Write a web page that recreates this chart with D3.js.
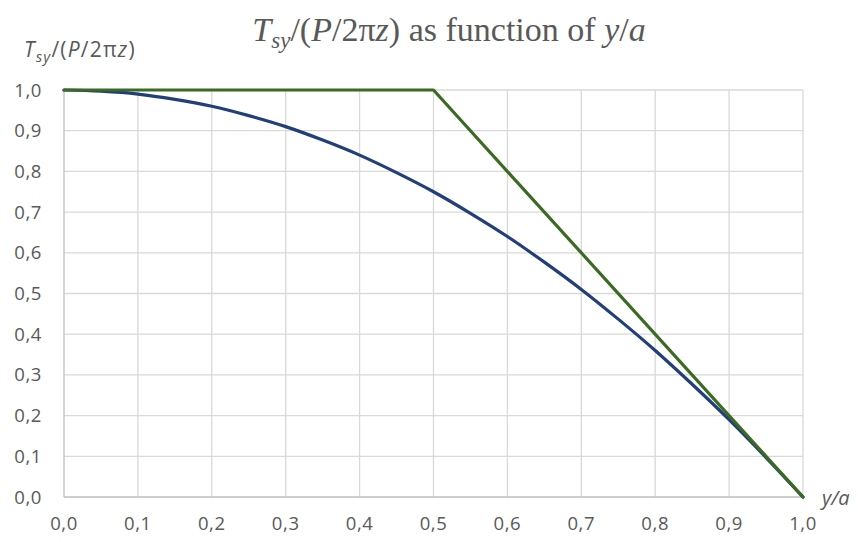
<!DOCTYPE html>
<html>
<head>
<meta charset="utf-8">
<script src="https://cdn.jsdelivr.net/npm/d3@7"></script>
<style>
  body { margin: 0; background: #fff; }
  svg { display: block; }
</style>
</head>
<body>
<svg id="chart" width="858" height="542"></svg>
<script>
// values
const yOverA = [0, 0.05, 0.1, 0.15, 0.2, 0.25, 0.3, 0.35, 0.4, 0.45, 0.5,
  0.55, 0.6, 0.65, 0.7, 0.75, 0.8, 0.85, 0.9, 0.95, 1.0];
const blueValues = [1.0, 0.997, 0.99, 0.977, 0.96, 0.937, 0.91, 0.877, 0.84, 0.797, 0.75,
  0.697, 0.64, 0.577, 0.51, 0.437, 0.36, 0.277, 0.19, 0.097, 0.0];
const greenX = [0, 0.49, 0.5, 1.0];
const greenValues = [1.0, 1.0, 1.0, 0.0];
const xTicks = [0, 0.1, 0.2, 0.3, 0.4, 0.5, 0.6, 0.7, 0.8, 0.9, 1.0];
const yTicks = [0, 0.1, 0.2, 0.3, 0.4, 0.5, 0.6, 0.7, 0.8, 0.9, 1.0];

const svg = d3.select("#chart");
const plotLeft = 64, plotRight = 803, plotTop = 90, plotBottom = 497;
const textColor = "#595959";
const sans = "'Open Sans', 'Liberation Sans', sans-serif";

const x = d3.scaleLinear().domain([0, 1]).range([plotLeft, plotRight]);
const y = d3.scaleLinear().domain([0, 1]).range([plotBottom, plotTop]);
const fmt = d => d3.format(".1f")(d).replace(".", ",");

// gridlines
svg.append("g")
  .selectAll("line")
  .data(xTicks.slice(1))
  .join("line")
  .attr("x1", d => x(d)).attr("x2", d => x(d))
  .attr("y1", plotTop).attr("y2", plotBottom)
  .attr("stroke", "#d9d9d9").attr("stroke-width", 1.3);

svg.append("g")
  .selectAll("line")
  .data(yTicks.slice(1))
  .join("line")
  .attr("x1", plotLeft).attr("x2", plotRight)
  .attr("y1", d => y(d)).attr("y2", d => y(d))
  .attr("stroke", "#d9d9d9").attr("stroke-width", 1.3);

// axes lines
svg.append("line")
  .attr("x1", plotLeft).attr("x2", plotRight).attr("y1", plotBottom).attr("y2", plotBottom)
  .attr("stroke", "#bfbfbf").attr("stroke-width", 1.3);
svg.append("line")
  .attr("x1", plotLeft).attr("x2", plotLeft).attr("y1", plotTop).attr("y2", plotBottom)
  .attr("stroke", "#bfbfbf").attr("stroke-width", 1.3);

// tick labels
svg.append("g")
  .selectAll("text")
  .data(xTicks)
  .join("text")
  .attr("x", d => x(d)).attr("y", 530)
  .attr("text-anchor", "middle")
  .attr("font-family", sans).attr("font-size", 18.5).attr("letter-spacing", 0.6)
  .attr("fill", textColor)
  .text(fmt);

svg.append("g")
  .selectAll("text")
  .data(yTicks)
  .join("text")
  .attr("x", 42).attr("y", d => y(d) + 6.5)
  .attr("text-anchor", "end")
  .attr("font-family", sans).attr("font-size", 18.5).attr("letter-spacing", 0.6)
  .attr("fill", textColor)
  .text(fmt);

// series
const blue = yOverA.map((v, i) => [v, blueValues[i]]);
const green = greenX.map((v, i) => [v, greenValues[i]]);
const smooth = d3.line().x(d => x(d[0])).y(d => y(d[1])).curve(d3.curveMonotoneX);
const straight = d3.line().x(d => x(d[0])).y(d => y(d[1]));

svg.append("path")
  .datum(blue)
  .attr("d", smooth)
  .attr("fill", "none")
  .attr("stroke", "#223f7a").attr("stroke-width", 3.2)
  .attr("stroke-linecap", "round");

svg.append("path")
  .datum(green)
  .attr("d", straight)
  .attr("fill", "none")
  .attr("stroke", "#3b6a22").attr("stroke-width", 3.2)
  .attr("stroke-linecap", "round").attr("stroke-linejoin", "round");

// title
const title = svg.append("text")
  .attr("x", 449).attr("y", 41)
  .attr("text-anchor", "middle")
  .attr("font-family", "'Liberation Serif', serif").attr("font-size", 34)
  .attr("fill", textColor);
title.append("tspan").attr("font-style", "italic").text("T");
title.append("tspan").attr("font-style", "italic").attr("font-size", 23).attr("dy", 7).text("sy");
title.append("tspan").attr("dy", -7).text("/(");
title.append("tspan").attr("font-style", "italic").text("P");
title.append("tspan").text("/2\u03c0");
title.append("tspan").attr("font-style", "italic").text("z");
title.append("tspan").text(") as function of ");
title.append("tspan").attr("font-style", "italic").text("y");
title.append("tspan").text("/");
title.append("tspan").attr("font-style", "italic").text("a");

// y axis title
const yt = svg.append("text")
  .attr("x", 24).attr("y", 57)
  .attr("font-family", sans).attr("font-size", 21).attr("letter-spacing", 1.2)
  .attr("fill", textColor);
yt.append("tspan").attr("font-style", "italic").text("T");
yt.append("tspan").attr("font-style", "italic").attr("font-size", 15).attr("dy", 5).text("sy");
yt.append("tspan").attr("dy", -5).text("/(");
yt.append("tspan").attr("font-style", "italic").text("P");
yt.append("tspan").text("/2\u03c0");
yt.append("tspan").attr("font-style", "italic").text("z");
yt.append("tspan").text(")");

// x axis title
svg.append("text")
  .attr("x", 822).attr("y", 505)
  .attr("font-family", sans).attr("font-size", 20).attr("font-style", "italic")
  .attr("fill", textColor)
  .text("y/a");
</script>
</body>
</html>
